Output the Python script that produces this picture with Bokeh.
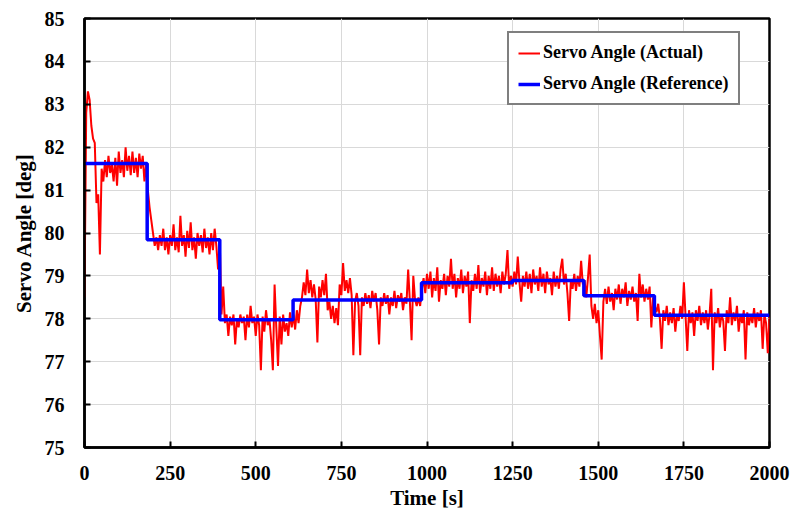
from bokeh.plotting import figure
from bokeh.models import Range1d, SingleIntervalTicker, Legend, LegendItem
from bokeh.embed import file_html
from bokeh.resources import INLINE

# ---------------- data ----------------
actual_angle = [
    78.5, 82.8, 83.3, 83.1, 82.5, 82.2, 82.1, 80.7, 80.9, 79.5,
    81.5, 81.2, 81.7, 81.3, 81.8, 81.4, 81.6, 81.2, 81.75, 81.1,
    81.9, 81.4, 81.7, 81.3, 82.0, 81.45, 81.8, 81.35, 81.9, 81.4,
    81.75, 81.3, 81.85, 81.5, 81.8, 81.2, 81.6, 81.0, 80.6, 80.3,
    80.0, 79.7, 79.9, 79.6, 79.95, 79.7, 80.1, 79.6, 79.9, 79.5,
    79.95, 79.7, 80.2, 79.6, 79.9, 79.55, 80.4, 79.7, 79.95, 79.45,
    80.05, 79.65, 80.25, 79.6, 79.9, 79.4, 80.0, 79.7, 79.95, 79.55,
    80.1, 79.65, 79.9, 79.5, 80.0, 79.6, 80.1, 79.7, 79.15, 79.8,
    78.1, 78.75, 77.9, 78.1, 77.6, 78.05, 77.85, 78.1, 77.4, 78.0,
    77.8, 78.1, 77.9, 78.05, 77.5, 78.1, 77.8, 78.3, 77.9, 78.05,
    77.6, 78.1, 77.85, 76.8, 78.05, 77.7, 78.2, 77.85, 78.0, 77.5,
    76.8, 78.8, 77.8, 76.9, 78.05, 77.4, 78.1, 77.7, 77.9, 77.6,
    78.15, 77.8, 78.1, 77.75, 78.2, 77.9, 78.3, 78.5, 78.85, 78.55,
    79.15, 78.6, 78.9, 78.5, 78.8, 78.45, 77.45, 78.75, 78.5, 78.9,
    78.55, 79.05, 78.2, 78.4, 78.0, 78.3, 77.9, 78.25, 77.85, 78.8,
    78.55, 79.3, 78.65, 78.9, 78.6, 78.95, 78.55, 77.15, 78.4, 78.6,
    78.3, 77.15, 78.5, 78.3, 78.6, 78.35, 78.55, 78.25, 78.65, 78.4,
    78.6, 78.2, 77.4, 78.5, 78.3, 78.6, 78.35, 78.55, 78.1, 78.5,
    78.3, 78.65, 78.25, 78.55, 78.4, 78.6, 78.2, 78.5, 78.35, 79.15,
    78.4, 77.5, 79.0, 78.45, 78.3, 78.5, 78.3, 78.7, 78.95, 78.6,
    79.05, 78.7, 79.1, 78.5, 78.95, 78.65, 79.2, 78.4, 78.9, 78.7,
    79.05, 78.55, 79.0, 78.75, 79.4, 78.7, 79.05, 78.5, 78.95, 78.7,
    79.15, 78.6, 79.0, 78.75, 79.1, 77.9, 78.9, 78.65, 79.05, 78.7,
    79.25, 78.6, 78.95, 78.75, 79.1, 78.55, 79.0, 78.7, 79.2, 78.65,
    79.05, 78.75, 79.0, 78.6, 79.1, 78.8, 79.05, 79.6, 78.7, 79.0,
    78.75, 79.1, 78.8, 79.45, 78.85, 78.4, 79.0, 78.75, 79.1, 78.7,
    79.05, 78.6, 79.15, 78.8, 79.0, 78.65, 79.2, 78.75, 79.05, 78.6,
    79.1, 78.8, 78.95, 78.55, 79.1, 78.75, 79.0, 78.7, 79.15, 79.4,
    78.8, 79.05, 78.6, 77.95, 78.9, 78.7, 79.05, 78.65, 79.0, 78.75,
    79.35, 78.8, 78.9, 78.5, 78.95, 79.5, 78.3, 78.0, 78.35, 77.9,
    78.2, 77.6, 77.05, 78.4, 78.7, 78.35, 78.75, 78.4, 78.6, 78.2,
    78.7, 78.45, 78.8, 78.35, 78.7, 78.5, 78.85, 78.3, 78.65, 78.45,
    78.75, 78.4, 78.6, 77.95, 79.05, 78.5, 78.8, 78.4, 78.7, 78.45,
    78.75, 77.8, 78.5, 78.3, 78.15, 78.35, 78.0, 77.3, 78.2, 77.95,
    78.3, 77.85, 78.15, 77.9, 78.25, 77.7, 78.1, 77.95, 78.3, 78.0,
    78.85, 78.05, 77.25, 78.2, 77.9, 78.15, 77.6, 78.2, 77.95, 78.3,
    77.85, 78.15, 77.9, 78.2, 77.75, 78.1, 78.7, 76.8, 78.15, 77.9,
    78.25, 77.8, 78.1, 77.95, 77.25, 78.2, 77.9, 78.5, 77.85, 78.15,
    77.95, 78.3, 77.7, 78.1, 77.9, 78.2, 77.05, 78.15, 77.85, 78.1,
    77.9, 78.25, 77.8, 78.15, 77.95, 78.2, 77.3, 78.1, 77.9, 77.2,
    78.05,
]
actual_time = list(range(0, 2001, 5))

# Reference (setpoint) steps: start times of each level and its value
ref_time = [0, 183, 395, 609, 984, 1249, 1458, 1664, 2000]
ref_angle = [81.62, 79.84, 77.98, 78.44, 78.84, 78.89, 78.54, 78.08, 78.08]

x_ticks_interval = 250
y_ticks_interval = 1

FONT = "Liberation Serif"

p = figure(
    frame_width=685, frame_height=429,
    x_range=Range1d(0, 2000), y_range=Range1d(75, 85),
    output_backend="svg", toolbar_location=None,
    min_border_left=84, min_border_right=37,
    min_border_top=18, min_border_bottom=66,
    background_fill_color="white", border_fill_color="white",
)

r_act = p.line(actual_time, actual_angle, line_color="#FF0000", line_width=2)
r_ref = p.step(ref_time, ref_angle, mode="after", line_color="#0000FF", line_width=3.5)

p.xaxis.ticker = SingleIntervalTicker(interval=x_ticks_interval)
p.yaxis.ticker = SingleIntervalTicker(interval=y_ticks_interval)

for ax in (p.xaxis[0], p.yaxis[0]):
    ax.axis_line_color = "black"
    ax.axis_line_width = 2.5
    ax.major_tick_in = 6
    ax.major_tick_out = 0
    ax.major_tick_line_width = 2
    ax.major_tick_line_color = "black"
    ax.minor_tick_line_color = None
    ax.major_label_text_font = FONT
    ax.major_label_text_font_style = "bold"
    ax.major_label_text_font_size = "20px"
    ax.major_label_text_color = "black"
    ax.axis_label_text_font = FONT
    ax.axis_label_text_font_style = "bold"
    ax.axis_label_text_font_size = "21px"
    ax.axis_label_text_color = "black"

p.xaxis.axis_label = "Time [s]"
p.yaxis.axis_label = "Servo Angle [deg]"
p.xaxis.major_label_standoff = 14
p.xaxis.axis_label_standoff = 3
p.yaxis.major_label_standoff = 16
p.yaxis.axis_label_standoff = 6

p.xgrid.grid_line_color = "#D9D9D9"
p.ygrid.grid_line_color = "#D9D9D9"
p.xgrid.grid_line_width = 1
p.ygrid.grid_line_width = 1

p.outline_line_color = "black"
p.outline_line_width = 2.5
p.outline_line_alpha = 1

legend = Legend(
    items=[
        LegendItem(label="Servo Angle (Actual)", renderers=[r_act]),
        LegendItem(label="Servo Angle (Reference)", renderers=[r_ref]),
    ],
    location=(423, 342),
    label_text_font=FONT,
    label_text_font_style="bold",
    label_text_font_size="18px",
    label_text_color="black",
    border_line_color="black",
    border_line_width=2,
    background_fill_color="white",
    background_fill_alpha=1,
    padding=9,
    spacing=10,
    label_height=20,
    glyph_height=20,
    glyph_width=22,
    label_standoff=3,
    margin=0,
)
p.add_layout(legend, "center")

open("out.html", "w").write(file_html(p, INLINE))
